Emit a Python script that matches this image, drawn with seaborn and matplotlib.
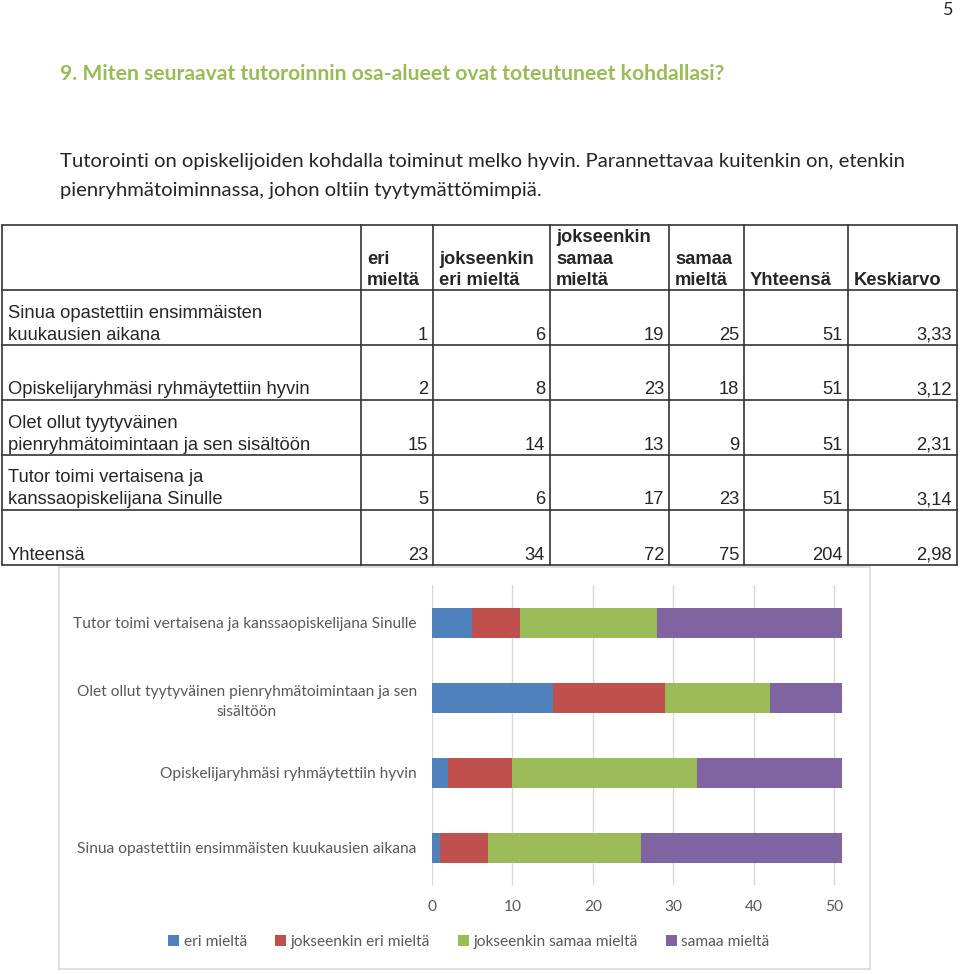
import numpy as np
import pandas as pd
import matplotlib
matplotlib.use("Agg")
import matplotlib.pyplot as plt
from matplotlib.patches import Patch, Rectangle
from matplotlib.lines import Line2D
import seaborn as sns

# survey data (rows in table order)
row_labels = [["Sinua opastettiin ensimmäisten", "kuukausien aikana"],
              ["Opiskelijaryhmäsi ryhmäytettiin hyvin"],
              ["Olet ollut tyytyväinen", "pienryhmätoimintaan ja sen sisältöön"],
              ["Tutor toimi vertaisena ja", "kanssaopiskelijana Sinulle"]]
chart_labels = ["Sinua opastettiin ensimmäisten kuukausien aikana",
                "Opiskelijaryhmäsi ryhmäytettiin hyvin",
                "Olet ollut tyytyväinen pienryhmätoimintaan ja sen\nsisältöön",
                "Tutor toimi vertaisena ja kanssaopiskelijana Sinulle"]
answers = ["eri mieltä", "jokseenkin eri mieltä", "jokseenkin samaa mieltä", "samaa mieltä"]
header_lines = [["eri", "mieltä"], ["jokseenkin", "eri mieltä"], ["jokseenkin", "samaa", "mieltä"],
                ["samaa", "mieltä"], ["Yhteensä"], ["Keskiarvo"]]
eri = [1, 2, 15, 5]
jok_eri = [6, 8, 14, 6]
jok_samaa = [19, 23, 13, 17]
samaa = [25, 18, 9, 23]
colors = ["#4F81BD", "#C0504D", "#9BBB59", "#8064A2"]

counts = np.array([eri, jok_eri, jok_samaa, samaa])
totals = counts.sum(axis=0)
means = (counts * np.arange(1, 5)[:, None]).sum(axis=0) / totals

W, H = 960, 974
sns.set_style("white")
fig = plt.figure(figsize=(W / 100, H / 100), dpi=100)


def fx(px):
    return px / W


def fy(py):
    return 1 - py / H


def txt(x, y, s, **kw):
    fig.text(fx(x), fy(y), s, **kw)


# page header text
txt(943, 10, "5", fontsize=13, family="Lato", ha="left", va="center")
txt(60, 74, "9. Miten seuraavat tutoroinnin osa-alueet ovat toteutuneet kohdallasi?",
    fontsize=15.2, family="Lato", weight="bold", color="#9BBB59", va="center")
txt(60, 162, "Tutorointi on opiskelijoiden kohdalla toiminut melko hyvin. Parannettavaa kuitenkin on, etenkin",
    fontsize=14.6, family="Lato", va="center")
txt(60, 190, "pienryhmätoiminnassa, johon oltiin tyytymättömimpiä.",
    fontsize=14.6, family="Lato", va="center")

# table grid
col_x = [2, 361, 433, 550, 669, 744, 848, 957]
row_y = [225, 290, 345, 400, 455, 510, 565]
lc = "#333333"
for y in row_y:
    fig.add_artist(Line2D([fx(2), fx(957)], [fy(y), fy(y)], color=lc, lw=1.2))
for x in col_x:
    fig.add_artist(Line2D([fx(x), fx(x)], [fy(row_y[0]), fy(row_y[-1])], color=lc, lw=1.2))

tf = dict(family="Liberation Sans", fontsize=13.2, va="center")
# header
for c, lines in enumerate(header_lines):
    n = len(lines)
    for k, s in enumerate(lines):
        txt(col_x[c + 1] + 6, 281 - (n - 1 - k) * 22, s, weight="bold", ha="left", **tf)

# body rows
body_vals = []
for r in range(4):
    body_vals.append([str(v) for v in counts[:, r]] + [str(totals[r]), f"{means[r]:.2f}".replace(".", ",")])
grand = counts.sum(axis=1)
grand_mean = (grand * np.arange(1, 5)).sum() / grand.sum()
body_vals.append([str(v) for v in grand] + [str(grand.sum()), f"{grand_mean:.2f}".replace(".", ",")])
all_labels = row_labels + [["Yhteensä"]]

for r in range(5):
    ybot = row_y[r + 2] - 10
    lines = all_labels[r]
    for k, s in enumerate(lines):
        txt(8, ybot - (len(lines) - 1 - k) * 22, s, ha="left", **tf)
    for c, v in enumerate(body_vals[r]):
        txt(col_x[c + 2] - 5, ybot, v, ha="right", **tf)

# chart frame
fig.add_artist(Rectangle((fx(59), fy(969)), fx(870) - fx(59), fy(567) - fy(969),
                         fill=False, edgecolor="#D9D9D9", lw=1.2))

ax = fig.add_axes([fx(432), fy(885), fx(842) - fx(432), fy(585) - fy(885)])
order = chart_labels[::-1]
cum = np.cumsum(counts, axis=0)
for i in reversed(range(4)):
    df = pd.DataFrame({"kohta": chart_labels, "arvo": cum[i]})
    sns.barplot(data=df, x="arvo", y="kohta", order=order, orient="h", color=colors[i],
                width=0.4, saturation=1, linewidth=0, ax=ax)
ax.set_xlim(0, 51)
ax.set_xticks([0, 10, 20, 30, 40, 50])
ax.set_xlabel("")
ax.set_ylabel("")
ax.grid(axis="x", color="#D9D9D9", lw=1)
ax.set_axisbelow(True)
for s in ax.spines.values():
    s.set_visible(False)
ax.tick_params(axis="x", length=0, pad=11, labelsize=11.2, labelcolor="#595959")
ax.tick_params(axis="y", length=0, pad=11, labelsize=11.2, labelcolor="#595959")
for lab in ax.get_xticklabels() + ax.get_yticklabels():
    lab.set_family("Lato")
for lab in ax.get_yticklabels():
    lab.set_multialignment("center")
    lab.set_linespacing(1.5)

handles = [Patch(facecolor=c, edgecolor="none") for c in colors]
leg = fig.legend(handles, answers, loc="center", bbox_to_anchor=(fx(469), fy(942)), ncol=4,
                 frameon=False, handlelength=0.7, handleheight=0.7, handletextpad=0.3,
                 columnspacing=1.8, prop={"family": "Lato", "size": 11.2})
for t in leg.get_texts():
    t.set_color("#595959")

fig.savefig("out.png", dpi=100)
